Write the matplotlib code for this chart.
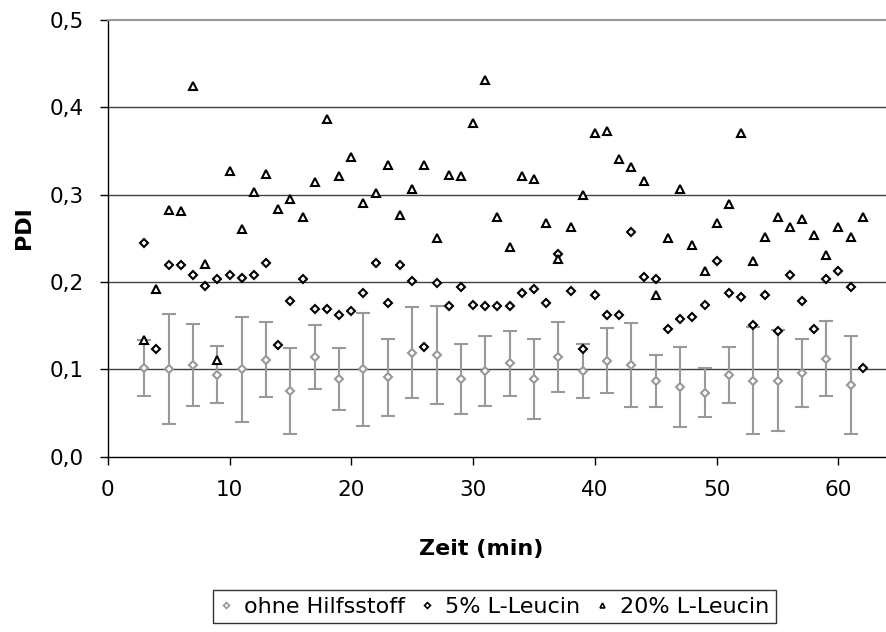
import numpy as np
import matplotlib
matplotlib.use("Agg")
from matplotlib import pyplot as plt
from matplotlib.lines import Line2D


# ohne Hilfsstoff (mean with error bars, every second minute)
time_ohne = [3, 5, 7, 9, 11, 13, 15, 17, 19, 21, 23, 25, 27, 29, 31,
             33, 35, 37, 39, 41, 43, 45, 47, 49, 51, 53, 55, 57, 59, 61]
pdi_ohne = [0.102, 0.100, 0.105, 0.094, 0.100, 0.111, 0.075, 0.114, 0.089, 0.100,
            0.091, 0.119, 0.116, 0.089, 0.098, 0.107, 0.089, 0.114, 0.098, 0.110,
            0.105, 0.087, 0.080, 0.073, 0.094, 0.087, 0.087, 0.096, 0.112, 0.082]
err_ohne = [0.032, 0.063, 0.047, 0.033, 0.060, 0.043, 0.049, 0.037, 0.036, 0.065,
            0.044, 0.052, 0.056, 0.040, 0.040, 0.037, 0.046, 0.040, 0.031, 0.037,
            0.048, 0.030, 0.046, 0.028, 0.032, 0.061, 0.058, 0.039, 0.043, 0.056]

# 5% and 20% L-Leucin (every minute from 3 to 62)
time_leu = list(range(3, 63))
pdi_5 = [0.245, 0.123, 0.219, 0.219, 0.208, 0.195, 0.203, 0.208, 0.205, 0.208,
         0.222, 0.128, 0.178, 0.203, 0.169, 0.169, 0.162, 0.167, 0.188, 0.222,
         0.176, 0.219, 0.201, 0.126, 0.199, 0.172, 0.194, 0.174, 0.172, 0.172,
         0.172, 0.188, 0.192, 0.176, 0.232, 0.190, 0.123, 0.185, 0.162, 0.162,
         0.257, 0.206, 0.203, 0.146, 0.158, 0.160, 0.174, 0.224, 0.187, 0.183,
         0.151, 0.185, 0.144, 0.208, 0.178, 0.146, 0.203, 0.213, 0.194, 0.102]
pdi_20 = [0.134, 0.192, 0.283, 0.281, 0.424, 0.221, 0.111, 0.327, 0.261, 0.303,
          0.324, 0.284, 0.295, 0.274, 0.314, 0.387, 0.321, 0.343, 0.291, 0.302,
          0.334, 0.277, 0.306, 0.334, 0.250, 0.323, 0.321, 0.382, 0.431, 0.274,
          0.240, 0.321, 0.318, 0.268, 0.226, 0.263, 0.300, 0.371, 0.373, 0.341,
          0.332, 0.316, 0.185, 0.250, 0.306, 0.242, 0.213, 0.268, 0.289, 0.371,
          0.224, 0.251, 0.275, 0.263, 0.272, 0.254, 0.231, 0.263, 0.251, 0.275]

labels = ["ohne Hilfsstoff", "5% L-Leucin", "20% L-Leucin"]
x_ticks = [0, 10, 20, 30, 40, 50, 60]
y_ticks = [0.0, 0.1, 0.2, 0.3, 0.4, 0.5]
y_ticklabels = ["0,0", "0,1", "0,2", "0,3", "0,4", "0,5"]

GREY = "#999999"

plt.rcParams["font.family"] = ["DejaVu Sans"]
plt.rcParams["font.size"] = 15.5

fig = plt.figure(figsize=(8.86, 6.32), dpi=100)
W, H = 886, 632
left, right, top, bottom = 107.7, 886, 20, 456.7
ax = fig.add_axes([left / W, 1 - bottom / H, (right - left) / W, (bottom - top) / H])

for y in y_ticks[1:-1]:
    ax.axhline(y, color="#404040", lw=1.0, zorder=1)

ax.errorbar(time_ohne, pdi_ohne, yerr=err_ohne, fmt="D", ms=4.5,
            mfc="white", mec=GREY, mew=1.5, ecolor=GREY, elinewidth=1.5,
            capsize=4.8, capthick=1.5, zorder=3)
ax.plot(time_leu, pdi_5, "D", ms=4.5, mfc="white", mec="black", mew=1.5,
        ls="none", zorder=4)
ax.plot(time_leu, pdi_20, "^", ms=5.5, mfc="white", mec="black", mew=1.5,
        ls="none", zorder=5)

ax.set_xlim(0, (right - left) / 12.18)
ax.set_ylim(0, 0.5)
ax.set_xticks(x_ticks)
ax.set_yticks(y_ticks)
ax.set_yticklabels(y_ticklabels)
ax.tick_params(direction="out", length=6, width=1, pad=11, colors="black")

ax.spines["right"].set_visible(False)
ax.spines["top"].set_color(GREY)
ax.spines["top"].set_linewidth(1.5)
ax.spines["left"].set_linewidth(1.0)
ax.spines["bottom"].set_linewidth(1.0)

fig.text(24 / W, 1 - 228 / H, "PDI", rotation=90, fontweight="bold",
         fontsize=16, ha="center", va="center")
fig.text(481 / W, 1 - 549 / H, "Zeit (min)", fontweight="bold",
         fontsize=16, ha="center", va="center")

handles = [
    Line2D([], [], ls="none", marker="D", ms=3, mfc="white", mec=GREY, mew=1.2),
    Line2D([], [], ls="none", marker="D", ms=3, mfc="white", mec="black", mew=1.2),
    Line2D([], [], ls="none", marker="^", ms=3.5, mfc="white", mec="black", mew=1.2),
]
leg = fig.legend(handles, labels, loc="upper left",
                 bbox_to_anchor=(213 / W, 1 - 590 / H),
                 ncol=3, frameon=True, fancybox=False, edgecolor="black",
                 handlelength=0.6, handletextpad=0.5, fontsize=16,
                 columnspacing=0.7, borderaxespad=0, borderpad=0.3)
leg.get_frame().set_linewidth(1.0)

fig.savefig("out.png", dpi=100)
